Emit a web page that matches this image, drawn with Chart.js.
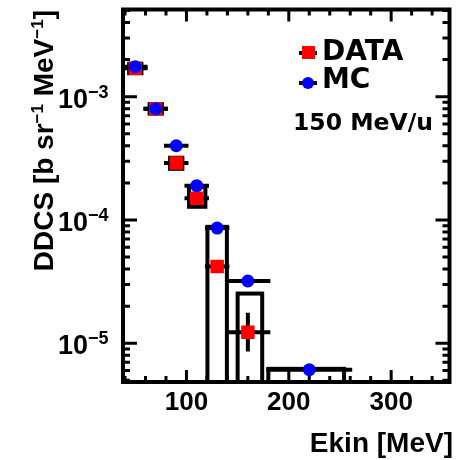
<!DOCTYPE html>
<html>
<head>
<meta charset="utf-8">
<script src="https://cdn.jsdelivr.net/npm/chart.js@4.4.1/dist/chart.umd.min.js"></script>
<style>
  html, body { margin: 0; padding: 0; background: #fff; }
  #wrap { width: 459px; height: 460px; }
</style>
</head>
<body>
<div id="wrap"><canvas id="ddcsChart" width="459" height="460"></canvas></div>
<script>
// DDCS vs kinetic energy, 150 MeV/u

// bin centres and edges [MeV]
const energy = [50, 70, 90, 110, 130, 160, 220];
const binLow = [40, 60, 80, 100, 120, 140, 180];
const binHigh = [60, 80, 100, 120, 140, 180, 260];

// measured values and statistical errors
const dataValues = [1.70e-3, 8.0e-4, 2.9e-4, 1.5e-4, 4.2e-5, 1.23e-5, null];
const dataErrLow = [1.6e-3, 7.6e-4, 2.75e-4, 1.42e-4, 3.9e-5, 8.9e-6, null];
const dataErrHigh = [1.8e-3, 8.4e-4, 3.05e-4, 1.58e-4, 4.5e-5, 1.7e-5, null];

// systematic boxes of the data
const sysXLow = [44, 64, 84, 102.5, 120.5, 150, 180];
const sysXHigh = [56, 76, 96, 118.5, 139.5, 174, 254];
const sysLow = [1.55e-3, 7.3e-4, 2.6e-4, 1.28e-4, 1e-7, 1e-7, 1e-7];
const sysHigh = [1.85e-3, 8.7e-4, 3.2e-4, 1.85e-4, 8.8e-5, 2.53e-5, 6.2e-6];

// simulation
const mcValues = [1.75e-3, 8.0e-4, 4.0e-4, 1.9e-4, 8.6e-5, 3.2e-5, 6.1e-6];

// axis stuff
const xTickLabels = [100, 200, 300];
const yDecades = [-3, -4, -5];

const FONT = "'Liberation Sans', Arial, Helvetica, sans-serif";
const LEG_FONT = "'DejaVu Sans', sans-serif";

function toPoints(vals) {
  return energy.map((e, i) => ({ x: e, y: vals[i] })).filter(p => p.y !== null);
}

// error bars and systematic boxes, drawn under the markers
const errorBarsPlugin = {
  id: "errorBars",
  beforeDatasetsDraw(chart) {
    const ctx = chart.ctx;
    const xs = chart.scales.x;
    const ys = chart.scales.y;
    const area = chart.chartArea;
    ctx.save();
    ctx.beginPath();
    ctx.rect(area.left, area.top, area.right - area.left, area.bottom - area.top);
    ctx.clip();
    ctx.strokeStyle = "#000";
    ctx.lineWidth = 4;
    ctx.lineCap = "square";

    // systematic boxes
    energy.forEach((e, i) => {
      const x0 = xs.getPixelForValue(sysXLow[i]);
      const x1 = xs.getPixelForValue(sysXHigh[i]);
      const y0 = ys.getPixelForValue(sysHigh[i]);
      const y1 = Math.min(ys.getPixelForValue(sysLow[i]), area.bottom + 10);
      ctx.strokeRect(x0, y0, x1 - x0, y1 - y0);
    });

    // horizontal bin bars for data and mc
    energy.forEach((e, i) => {
      const x0 = xs.getPixelForValue(binLow[i]);
      const x1 = xs.getPixelForValue(binHigh[i]);
      [dataValues[i], mcValues[i]].forEach(v => {
        if (v === null) return;
        const y = ys.getPixelForValue(v);
        ctx.beginPath();
        ctx.moveTo(x0, y);
        ctx.lineTo(x1, y);
        ctx.stroke();
      });
      // vertical stat error of the data
      if (dataValues[i] !== null) {
        const x = xs.getPixelForValue(e);
        ctx.beginPath();
        ctx.moveTo(x, ys.getPixelForValue(dataErrLow[i]));
        ctx.lineTo(x, ys.getPixelForValue(dataErrHigh[i]));
        ctx.stroke();
      }
    });
    ctx.restore();
  },

  afterDraw(chart) {
    const ctx = chart.ctx;
    const xs = chart.scales.x;
    const ys = chart.scales.y;
    const a = chart.chartArea;
    ctx.save();
    ctx.strokeStyle = "#000";
    ctx.fillStyle = "#000";

    // inward ticks on all four sides
    ctx.lineWidth = 3;
    ctx.lineCap = "butt";
    for (let v = 40; v <= 340; v += 20) {
      const x = xs.getPixelForValue(v);
      const len = v % 100 === 0 ? 12 : 6;
      ctx.beginPath();
      ctx.moveTo(x, a.bottom); ctx.lineTo(x, a.bottom - len);
      ctx.moveTo(x, a.top); ctx.lineTo(x, a.top + len);
      ctx.stroke();
    }
    for (let d = -6; d <= -3; d++) {
      for (let m = 1; m <= 9; m++) {
        const v = m * Math.pow(10, d);
        if (v < ys.min || v > ys.max) continue;
        const y = ys.getPixelForValue(v);
        const len = m === 1 ? 14 : 7;
        ctx.beginPath();
        ctx.moveTo(a.left, y); ctx.lineTo(a.left + len, y);
        ctx.moveTo(a.right, y); ctx.lineTo(a.right - len, y);
        ctx.stroke();
      }
    }

    // frame
    ctx.lineWidth = 4;
    ctx.strokeRect(a.left, a.top, a.right - a.left, a.bottom - a.top);

    // y tick labels 10^n
    yDecades.forEach(d => {
      const y = ys.getPixelForValue(Math.pow(10, d));
      ctx.font = "bold 27px " + FONT;
      ctx.textAlign = "right";
      ctx.textBaseline = "alphabetic";
      ctx.fillText("10", 88, y + 11);
      ctx.font = "bold 18px " + FONT;
      ctx.textAlign = "left";
      ctx.fillText("\u2212" + Math.abs(d), 88, y + 1);
    });

    // x axis title
    ctx.font = "bold 28px " + FONT;
    ctx.textAlign = "right";
    ctx.fillText("Ekin [MeV]", 453, 452);

    // y axis title with superscripts, rotated
    ctx.translate(53, 10);
    ctx.rotate(-Math.PI / 2);
    const parts = [
      ["]", false], ["\u22121", true], [" MeV", false], ["\u22121", true], ["DDCS [b sr", false]
    ];
    let pos = 0;
    parts.forEach(([txt, sup]) => {
      ctx.font = sup ? "bold 17px " + FONT : "bold 28px " + FONT;
      ctx.textAlign = "right";
      ctx.fillText(txt, -pos, sup ? -10 : 0);
      pos += ctx.measureText(txt).width;
    });
    ctx.restore();

    // legend
    ctx.save();
    ctx.strokeStyle = "#000";
    ctx.lineWidth = 4;
    [53, 83].forEach(ly => {
      ctx.beginPath();
      ctx.moveTo(299, ly); ctx.lineTo(317, ly);
      ctx.stroke();
    });
    ctx.fillStyle = "#ff0000";
    ctx.fillRect(302, 46, 13, 13);
    ctx.fillStyle = "#0000ff";
    ctx.beginPath();
    ctx.arc(308, 83, 6, 0, Math.PI * 2);
    ctx.fill();
    ctx.fillStyle = "#000";
    ctx.font = "bold 28px " + LEG_FONT;
    ctx.textAlign = "left";
    ctx.fillText("DATA", 322, 60);
    ctx.fillText("MC", 322, 88);
    ctx.font = "bold 23.5px " + LEG_FONT;
    ctx.fillText("150 MeV/u", 293, 130);
    ctx.restore();
  }
};

const ctx = document.getElementById("ddcsChart").getContext("2d");
new Chart(ctx, {
  type: "scatter",
  data: {
    datasets: [
      {
        label: "DATA",
        data: toPoints(dataValues),
        order: 2,
        pointStyle: "rect",
        pointRadius: 9.5,
        pointHoverRadius: 9.5,
        backgroundColor: "#ff0000",
        borderWidth: 0,
      },
      {
        label: "MC",
        data: toPoints(mcValues),
        order: 1,
        pointStyle: "circle",
        pointRadius: 6.5,
        pointHoverRadius: 6.5,
        backgroundColor: "#0000ff",
        borderWidth: 0,
      },
    ],
  },
  options: {
    responsive: false,
    animation: false,
    events: [],
    layout: { padding: { left: 0, top: 8, right: 4, bottom: 0 } },
    plugins: {
      legend: { display: false },
      tooltip: { enabled: false },
    },
    scales: {
      x: {
        type: "linear",
        min: 38,
        max: 357,
        grid: { display: false, drawTicks: false },
        border: { display: false },
        afterBuildTicks(scale) {
          scale.ticks = xTickLabels.map(v => ({ value: v }));
        },
        afterFit(scale) { scale.height = 78; },
        ticks: {
          color: "#000",
          padding: 5,
          maxRotation: 0,
          font: { family: FONT, size: 26, weight: "bold" },
        },
      },
      y: {
        type: "logarithmic",
        min: 4.85e-6,
        max: 5.1e-3,
        grid: { display: false, drawTicks: false },
        border: { display: false },
        ticks: { display: false },
        afterFit(scale) { scale.width = 123; },
      },
    },
  },
  plugins: [errorBarsPlugin],
});
</script>
</body>
</html>
